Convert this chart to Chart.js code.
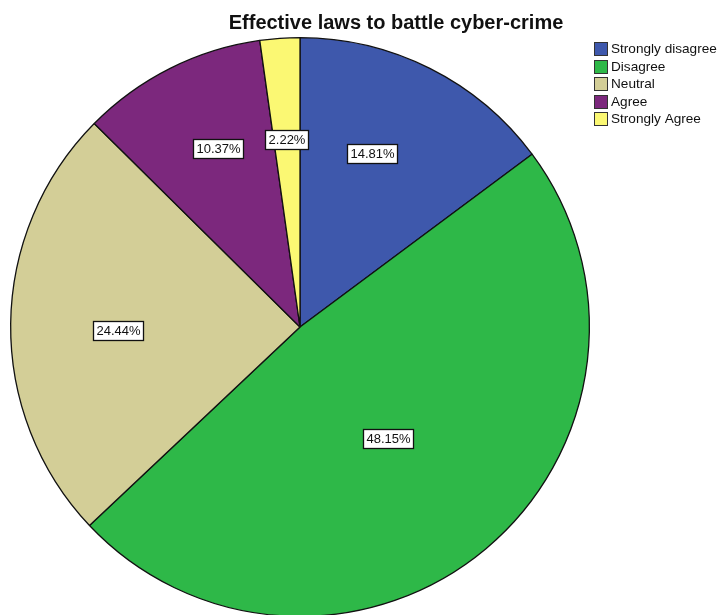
<!DOCTYPE html>
<html>
<head>
<meta charset="utf-8">
<script src="https://cdn.jsdelivr.net/npm/chart.js@4/dist/chart.umd.min.js"></script>
<style>
html,body{margin:0;padding:0;background:#fff;overflow:hidden;}
#wrap{width:718px;height:615px;overflow:hidden;}
</style>
</head>
<body>
<div id="wrap"><canvas id="c" width="718" height="640"></canvas></div>
<script>
const titleText = "Effective laws to battle cyber-crime";
const categories = ["Strongly disagree", "Disagree", "Neutral", "Agree", "Strongly Agree"];
const percentValues = [14.81, 48.15, 24.44, 10.37, 2.22];
const sliceColors = ["#3E58AC", "#2EB848", "#D3CE97", "#7C287D", "#FBF873"];

// label placement style: [fraction along slice angle, fraction of radius]
const labelPlacement = [[0.42, 0.65], [0.51, 0.49], [0.48, 0.63], [0.555, 0.68], [0.475, 0.65]];

const FONT = "Arial, 'Liberation Sans', sans-serif";

const decorPlugin = {
  id: 'decor',
  afterDatasetsDraw(chart) {
    const ctx = chart.ctx;
    const meta = chart.getDatasetMeta(0);
    ctx.save();
    // slice labels
    ctx.font = "13px " + FONT;
    ctx.textBaseline = "middle";
    ctx.textAlign = "center";
    meta.data.forEach((arc, i) => {
      const p = arc.getProps(['x','y','startAngle','endAngle','outerRadius'], true);
      const [t, rf] = labelPlacement[i];
      const a = p.startAngle + (p.endAngle - p.startAngle) * t;
      const r = p.outerRadius * rf;
      const cx = p.x + Math.cos(a) * r;
      const cy = p.y + Math.sin(a) * r;
      const txt = percentValues[i].toFixed(2) + "%";
      const w = Math.round(ctx.measureText(txt).width) + 6;
      const h = 19;
      const bx = Math.round(cx - w / 2) + 0.5, by = Math.round(cy - h / 2) + 0.5;
      ctx.fillStyle = "#fff";
      ctx.fillRect(bx, by, w, h);
      ctx.strokeStyle = "#111";
      ctx.lineWidth = 1.3;
      ctx.strokeRect(bx, by, w, h);
      ctx.fillStyle = "#111";
      ctx.fillText(txt, bx + w / 2, by + h / 2 + 0.5);
    });
    // title
    ctx.font = "bold 20px " + FONT;
    ctx.textAlign = "center";
    ctx.textBaseline = "alphabetic";
    ctx.fillStyle = "#111";
    ctx.fillText(titleText, 396, 29);
    // legend
    ctx.font = "13.6px " + FONT;
    ctx.textAlign = "left";
    ctx.textBaseline = "middle";
    ctx.lineWidth = 1;
    categories.forEach((c, i) => {
      const y = 42 + i * 17.5;
      const by = Math.round(y) + 0.5;
      ctx.fillStyle = sliceColors[i];
      ctx.fillRect(594.5, by, 13, 13);
      ctx.strokeStyle = "#333";
      ctx.strokeRect(594.5, by, 13, 13);
      ctx.fillStyle = "#111";
      ctx.fillText(c, 611, by + 7);
    });
    ctx.restore();
  }
};

new Chart(document.getElementById('c'), {
  type: 'pie',
  data: {
    labels: categories,
    datasets: [{
      data: percentValues,
      backgroundColor: sliceColors,
      borderColor: "#111",
      borderWidth: 1.3
    }]
  },
  options: {
    responsive: false,
    animation: false,
    devicePixelRatio: 1,
    layout: { padding: { left: 10, top: 37, right: 128, bottom: 23 } },
    plugins: {
      legend: { display: false },
      title: { display: false },
      tooltip: { enabled: false }
    }
  },
  plugins: [decorPlugin]
});
</script>
</body>
</html>
